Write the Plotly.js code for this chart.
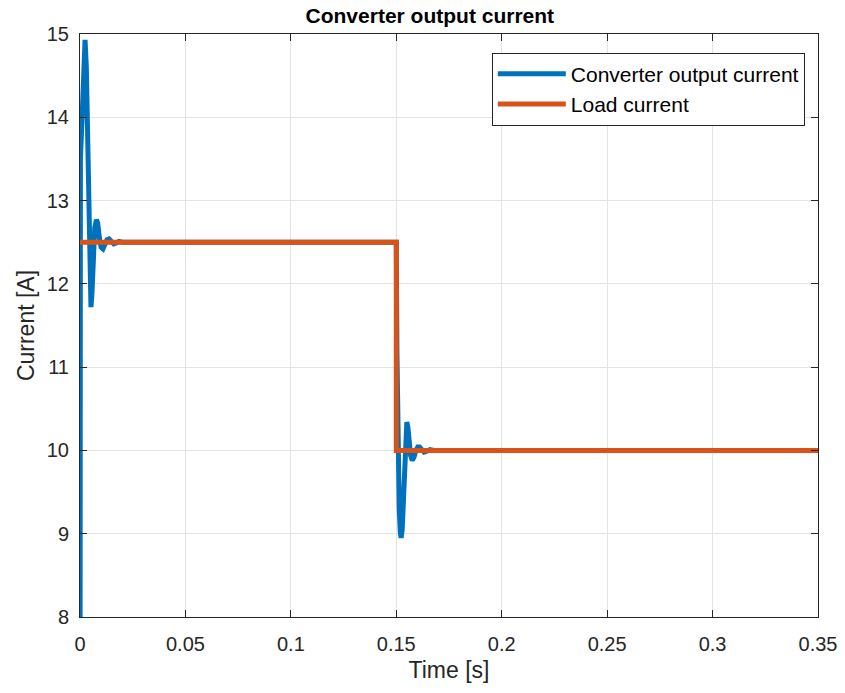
<!DOCTYPE html>
<html>
<head>
<meta charset="utf-8">
<script src="https://cdn.plot.ly/plotly-3.0.1.min.js"></script>
<style>
  html, body { margin: 0; padding: 0; background: #ffffff; }
  #chart { width: 845px; height: 693px; }
</style>
</head>
<body>
<div id="chart"></div>
<script>
// Converter output current: start-up transient and the load step at 0.15 s
const convTime = [
  0.0000, 0.0002, 0.0010, 0.0018, 0.0024, 0.0030, 0.0036, 0.0042, 0.0047, 0.0052,
  0.0057, 0.0062, 0.0070, 0.0078, 0.0084, 0.0092, 0.0100, 0.0109, 0.0118, 0.0128,
  0.0138, 0.0148, 0.0160, 0.0172, 0.0185, 0.0200,
  0.1500, 0.1503, 0.1508, 0.1514, 0.1519, 0.1523, 0.1528, 0.1534, 0.1540, 0.1546,
  0.1550, 0.1555, 0.1561, 0.1568, 0.1576, 0.1584, 0.1593, 0.1602, 0.1610, 0.1620,
  0.1632, 0.1645, 0.1660, 0.1680, 0.3500
];
const convCurrent = [
  6.00, 13.50, 14.00, 14.70, 14.93, 14.60, 13.70, 12.60, 11.95, 11.72,
  11.90, 12.30, 12.68, 12.77, 12.73, 12.55, 12.44, 12.42, 12.47, 12.53,
  12.54, 12.51, 12.48, 12.49, 12.51, 12.50,
  12.50, 11.20, 9.90, 9.30, 9.02, 8.95, 9.05, 9.50, 9.95, 10.25,
  10.34, 10.28, 10.10, 9.94, 9.88, 9.92, 10.00, 10.04, 10.04, 10.01,
  9.98, 9.99, 10.01, 10.00, 10.00
];

// Load current reference: 12.5 A stepping down to 10 A
const loadTime = [0, 0.15, 0.15, 0.35];
const loadCurrent = [12.5, 12.5, 10, 10];

const xTicks = [0, 0.05, 0.1, 0.15, 0.2, 0.25, 0.3, 0.35];
const yTicks = [8, 9, 10, 11, 12, 13, 14, 15];

const FONT = '"Liberation Sans", Arial, Helvetica, sans-serif';
const AXIS_COLOR = '#262626';

const traces = [
  {
    x: convTime, y: convCurrent, type: 'scatter', mode: 'lines',
    name: 'Converter output current',
    line: { color: '#0072BD', width: 5 }
  },
  {
    x: loadTime, y: loadCurrent, type: 'scatter', mode: 'lines',
    name: 'Load current',
    line: { color: '#D95319', width: 5 }
  }
];

const axisCommon = {
  showline: true, linecolor: AXIS_COLOR, linewidth: 1,
  mirror: 'ticks', ticks: 'inside', ticklen: 7, tickwidth: 1, tickcolor: AXIS_COLOR,
  showgrid: true, gridcolor: '#e3e3e3', gridwidth: 1,
  zeroline: false,
  tickfont: { family: FONT, size: 20, color: AXIS_COLOR }
};

const layout = {
  width: 845, height: 693,
  margin: { l: 80, r: 27, t: 34, b: 76 },
  paper_bgcolor: '#ffffff', plot_bgcolor: '#ffffff',
  title: {
    text: '<b>Converter output current</b>',
    font: { family: FONT, size: 21, color: '#000000' },
    x: 0.474, xref: 'paper', xanchor: 'center',
    y: 0.977, yref: 'container', yanchor: 'middle'
  },
  xaxis: Object.assign({}, axisCommon, {
    range: [0, 0.35], tickvals: xTicks, ticktext: xTicks.map(String),
    ticklabelstandoff: 9,
    title: { text: 'Time [s]', font: { family: FONT, size: 23, color: AXIS_COLOR }, standoff: 7 }
  }),
  yaxis: Object.assign({}, axisCommon, {
    range: [8, 15], tickvals: yTicks, ticktext: yTicks.map(String),
    ticklabelstandoff: 6,
    title: { text: 'Current [A]', font: { family: FONT, size: 23, color: AXIS_COLOR }, standoff: 5 }
  }),
  legend: {
    x: 0.558, y: 0.968, xanchor: 'left', yanchor: 'top',
    bgcolor: '#ffffff', bordercolor: AXIS_COLOR, borderwidth: 1,
    font: { family: FONT, size: 21, color: '#000000' },
    itemwidth: 68, tracegroupgap: 0
  },
  showlegend: true
};

Plotly.newPlot('chart', traces, layout, { staticPlot: true, displayModeBar: false });
</script>
</body>
</html>
